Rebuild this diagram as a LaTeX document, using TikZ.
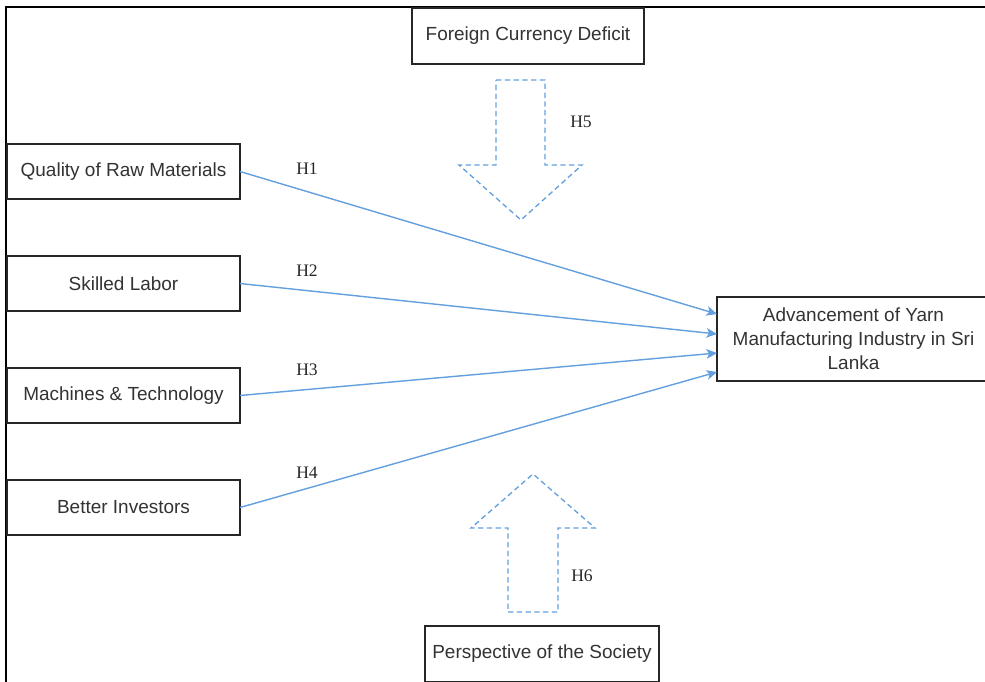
\documentclass[tikz,border=0pt]{standalone}
\usepackage{fontspec}
\setmainfont{Liberation Serif}
\newfontfamily\boxfont{Liberation Sans}
\usetikzlibrary{arrows.meta,calc}
\definecolor{linkblue}{RGB}{100,160,222}
\definecolor{txtgray}{RGB}{51,51,51}
\tikzset{
  box/.style={draw=black!85, line width=0.7pt, fill=white, inner sep=0pt, outer sep=0pt,
    text=txtgray, align=center, font=\boxfont\fontsize{10.8}{13.7}\selectfont},
  link/.style={draw=linkblue, line width=0.8pt, -{Stealth[length=6pt,width=5.5pt,inset=1.5pt]}},
  dasharrow/.style={draw=linkblue, line width=0.75pt, dash pattern=on 3pt off 2pt},
  hlabel/.style={inner sep=0pt, font=\fontsize{10}{12}\selectfont, text=black!85},
  frame/.style={draw=black, line width=1.3pt}
}
\begin{document}
\begin{tikzpicture}[x=0.02cm, y=-0.02cm]
\clip (0,0) rectangle (985,681);
\fill[white] (0,0) rectangle (985,681);
% frame
\draw[frame] (6,690) -- (6,7) -- (990,7);
% boxes
\node[box, minimum width=4.64cm, minimum height=1.12cm] (fcd) at (528,36) {Foreign Currency Deficit};
\node[box, minimum width=4.66cm, minimum height=1.1cm] (q) at (123.5,171.5) {Quality of Raw Materials};
\node[box, minimum width=4.66cm, minimum height=1.1cm] (s) at (123.5,283.5) {Skilled Labor};
\node[box, minimum width=4.66cm, minimum height=1.1cm] (m) at (123.5,395.5) {Machines \& Technology};
\node[box, minimum width=4.66cm, minimum height=1.1cm] (b) at (123.5,507.5) {Better Investors};
\node[box, minimum width=5.46cm, minimum height=1.68cm] (adv) at (853.5,339) {Advancement of Yarn\\Manufacturing Industry in Sri\\Lanka};
\node[box, minimum width=4.68cm, minimum height=1.12cm] (pers) at (542,654) {Perspective of the Society};
% connectors
\draw[link] (q.east) -- ($(adv.west)+(0,-25)$);
\draw[link] (s.east) -- ($(adv.west)+(0,-5)$);
\draw[link] (m.east) -- ($(adv.west)+(0,14)$);
\draw[link] (b.east) -- ($(adv.west)+(0,33)$);
% labels
\node[hlabel] (h1) at (307,169) {H1};
\node[hlabel] (h2) at (307,271) {H2};
\node[hlabel] (h3) at (307,370) {H3};
\node[hlabel] (h4) at (307,473) {H4};
\node[hlabel] (h5) at (581,122) {H5};
\node[hlabel] (h6) at (582,576) {H6};
% dashed block arrows
\draw[dasharrow] (496,80) -- (545,80) -- (545,165) -- (582,165) -- (521,220) -- (459,165) -- (496,165) -- cycle;
\draw[dasharrow] (508,612) -- (558,612) -- (558,528) -- (595,528) -- (533,474) -- (471,528) -- (508,528) -- cycle;
\end{tikzpicture}
\end{document}
